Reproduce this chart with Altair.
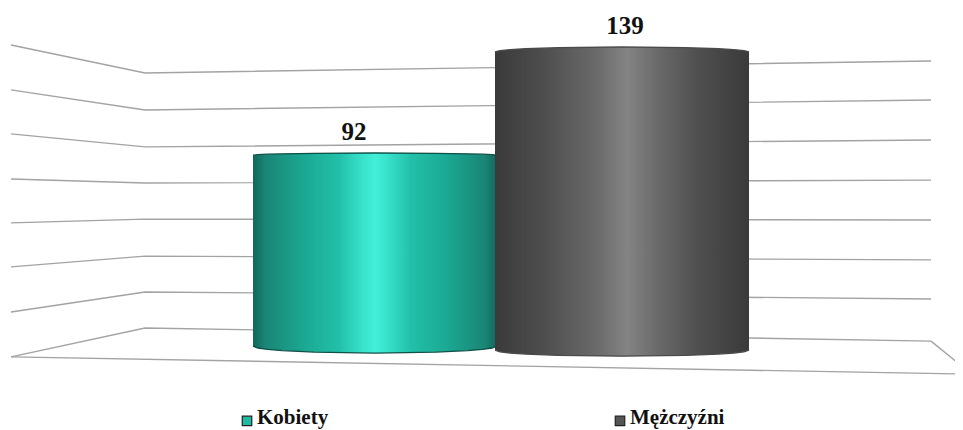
import altair as alt
import pandas as pd

# Values
categories = ["Kobiety", "Mężczyźni"]
values = [92, 139]
label_x = [354, 625]
bar_left = [253, 495]
bar_right = [497, 749]
bar_base_edge = [6.4, 4.6]
bar_belly = [3.1, 2.7]
bar_rim = [1.0, 2.2]
legend_square_x = [247, 620]
legend_text_x = [257, 630]
legend_y = [-26.8, -26.8]
legend_text_y = [-25.7, -25.7]

# Perspective grid (value units)
grid_x = [11, 145, 931]
grid_left = [139.9, 120.0, 100.5, 80.5, 61.0, 41.5, 21.5, 1.6]
grid_elbow = [127.5, 111.1, 94.7, 78.7, 62.7, 46.3, 30.4, 14.4]
grid_right = [132.8, 115.5, 97.8, 80.0, 62.3, 44.6, 27.3, 8.6]
floor_x = [11, 963]
floor_y = [1.6, -6.0]
wall_x = [931, 963]
wall_y = [8.6, -2.9]

# Cylinder profile: share of width and share of the ellipse bulge
curve_f = [0, 0.02, 0.06, 0.12, 0.25, 0.5, 0.75, 0.88, 0.94, 0.98, 1]
curve_b = [0, 0.28, 0.475, 0.65, 0.866, 1, 0.866, 0.65, 0.475, 0.28, 0]

teal_stops = [(0, "#12665b"), (0.05, "#1a8577"), (0.2, "#1ba690"), (0.35, "#22bfa8"),
              (0.45, "#38e2cb"), (0.5, "#43efd8"), (0.55, "#38e2cb"), (0.65, "#22bfa8"),
              (0.8, "#1aa892"), (0.95, "#1a8577"), (1, "#12665b")]
gray_stops = [(0, "#3a3a3a"), (0.2, "#4f4f4f"), (0.4, "#6a6a6a"), (0.52, "#848484"),
              (0.64, "#6a6a6a"), (0.8, "#4f4f4f"), (1, "#3a3a3a")]
edge_colors = ["#0f5048", "#4a4a4a"]
legend_colors = ["#1fb8a2", "#555555"]

X = alt.Scale(domain=[8, 955], range=[0, 947])
Y = alt.Scale(domain=[-30.82, 156.3], range=[422, 0])
FONT = "Liberation Serif"


def xe(f="x"):
    return alt.X(f"{f}:Q", scale=X, axis=None)


def ye(f="y"):
    return alt.Y(f"{f}:Q", scale=Y, axis=None)


grid_rows = []
for i, trio in enumerate(zip(grid_left, grid_elbow, grid_right)):
    for x, y in zip(grid_x, trio):
        grid_rows.append({"s": f"g{i}", "x": x, "y": y})
for x, y in zip(floor_x, floor_y):
    grid_rows.append({"s": "floor", "x": x, "y": y})
for x, y in zip(wall_x, wall_y):
    grid_rows.append({"s": "wall", "x": x, "y": y})

grid = alt.Chart(pd.DataFrame(grid_rows)).mark_line(
    color="#a3a3a3", strokeWidth=1.4, clip=False
).encode(x=xe(), y=ye(), detail="s:N")

layers = [grid]
for i, stops in enumerate([teal_stops, gray_stops]):
    w = bar_right[i] - bar_left[i]
    rows = [{
        "x": bar_left[i] + f * w,
        "y": values[i] - bar_rim[i] * (1 - b),
        "y2": bar_base_edge[i] - bar_belly[i] * b,
    } for f, b in zip(curve_f, curve_b)]
    df = pd.DataFrame(rows)
    fill = alt.Gradient(
        gradient="linear",
        stops=[alt.GradientStop(offset=o, color=c) for o, c in stops],
        x1=0, x2=1, y1=0, y2=0,
    )
    layers.append(
        alt.Chart(df).mark_area(color=fill, interpolate="linear").encode(
            x=xe(), y=ye(), y2="y2:Q"
        )
    )
    layers.append(
        alt.Chart(df).mark_line(color=edge_colors[i], strokeWidth=1.3).encode(x=xe(), y=ye())
    )
    layers.append(
        alt.Chart(df).mark_line(color=edge_colors[i], strokeWidth=1.3).encode(x=xe(), y=ye("y2"))
    )

labels_df = pd.DataFrame({
    "x": label_x,
    "y": values,
    "t": [str(v) for v in values],
})
layers.append(
    alt.Chart(labels_df).mark_text(
        font=FONT, fontWeight="bold", fontSize=25, color="#111111", baseline="middle", dy=-21
    ).encode(x=xe(), y=ye(), text="t:N")
)

legend_df = pd.DataFrame({
    "sx": legend_square_x, "tx": legend_text_x, "y": legend_y, "ty": legend_text_y,
    "name": categories, "c": legend_colors,
})
layers.append(
    alt.Chart(legend_df).mark_square(size=90, opacity=1, stroke="#222222", strokeWidth=1.2).encode(
        x=xe("sx"), y=ye(), fill=alt.Color("c:N", scale=None)
    )
)
layers.append(
    alt.Chart(legend_df).mark_text(
        font=FONT, fontWeight="bold", fontSize=21, color="#111111", align="left", baseline="middle"
    ).encode(x=xe("tx"), y=ye("ty"), text="name:N")
)

chart = alt.layer(*layers).properties(
    width=947, height=422, padding=0, background="white",
    autosize=alt.AutoSizeParams(type="none", contains="padding"),
).configure_view(stroke=None)

chart.save("out.html", embed_options={"renderer": "svg", "actions": False})
